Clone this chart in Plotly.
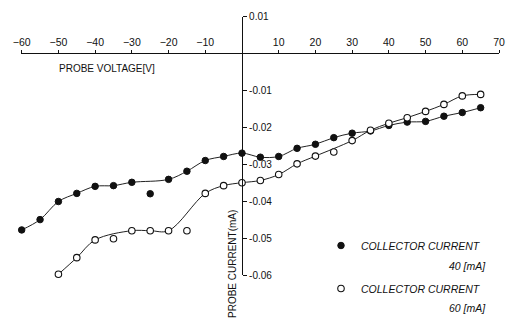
import plotly.graph_objects as go

# ---- data ----
voltage_40 = [-60, -55, -50, -45, -40, -35, -30, -25, -20, -15, -10, -5, 0,
              5, 10, 15, 20, 25, 30, 35, 40, 45, 50, 55, 60, 65]
current_40 = [-0.0478, -0.0450, -0.0401, -0.0379, -0.0360, -0.0358, -0.0349, -0.0380,
              -0.0341, -0.0319, -0.0290, -0.0279, -0.0270, -0.0281, -0.0279, -0.0257,
              -0.0246, -0.0228, -0.0216, -0.0210, -0.0195, -0.0186, -0.0184, -0.0170,
              -0.0160, -0.0147]
outliers_40 = [-25]

voltage_60 = [-50, -45, -40, -35, -30, -25, -20, -15, -10, -5, 0,
              5, 10, 15, 20, 25, 30, 35, 40, 45, 50, 55, 60, 65]
current_60 = [-0.0598, -0.0553, -0.0505, -0.0502, -0.0480, -0.0480, -0.0480, -0.0480,
              -0.0379, -0.0358, -0.0350, -0.0344, -0.0328, -0.0299, -0.0278, -0.0267,
              -0.0236, -0.0208, -0.0189, -0.0174, -0.0157, -0.0138, -0.0115, -0.0111]
outliers_60 = [-35, -15, 25]

x_tick_vals = [-60, -50, -40, -30, -20, -10, 10, 20, 30, 40, 50, 60, 70]
y_tick_vals = [0.01, -0.01, -0.02, -0.03, -0.04, -0.05, -0.06]
y_tick_text = ["0.01", "-0.01", "-0.02", "-0.03", "-0.04", "-0.05", "-0.06"]

W, H = 507, 326
FONT = "Liberation Sans"
INK = "#111111"


def fit(xs, ys, skip):
    fx, fy = [], []
    for a, b in zip(xs, ys):
        if a not in skip:
            fx.append(a)
            fy.append(b)
    return fx, fy


fig = go.Figure()

for xs, ys, skip in [(voltage_40, current_40, outliers_40), (voltage_60, current_60, outliers_60)]:
    fx, fy = fit(xs, ys, skip)
    fig.add_trace(go.Scatter(x=fx, y=fy, mode="lines", line=dict(color="#222", width=1, shape="spline", smoothing=1.0),
                             showlegend=False, hoverinfo="skip", cliponaxis=False))

fig.add_trace(go.Scatter(x=voltage_40, y=current_40, mode="markers", name="COLLECTOR CURRENT",
                         marker=dict(symbol="circle", size=6.5, color=INK, line=dict(color=INK, width=1)),
                         legendgroup="a", cliponaxis=False))
fig.add_trace(go.Scatter(x=voltage_60, y=current_60, mode="markers", name="COLLECTOR CURRENT",
                         marker=dict(symbol="circle", size=6.5, color="white", line=dict(color=INK, width=1.1)),
                         legendgroup="b", cliponaxis=False))

# axis geometry (pixels) measured on the reference
px_m60, px_p70 = 21.7, 499.0
px_per_v = (px_p70 - px_m60) / 130.0
x_lo, x_hi = -60.1, 70.1
x0_px = px_m60 + (x_lo + 60) * px_per_v
x1_px = px_p70 + (x_hi - 70) * px_per_v
y_top_px, y_bot_px = 16.5, 275.0
yaxis_px = px_m60 + 60 * px_per_v
xaxis_py = 53.4

fig.update_layout(
    width=W, height=H,
    margin=dict(l=0, r=0, t=0, b=0),
    paper_bgcolor="white", plot_bgcolor="white",
    font=dict(family=FONT, size=10, color=INK),
    xaxis=dict(domain=[x0_px / W, x1_px / W], range=[x_lo, x_hi], anchor="free",
               position=1 - xaxis_py / H, side="top", automargin=False, ticklabeloverflow="allow",
               showgrid=False, zeroline=False, showline=True, linecolor=INK, linewidth=1.2,
               ticks="outside", ticklen=3, tickcolor=INK, tickwidth=1.2,
               tickvals=x_tick_vals, tickfont=dict(size=10.5, family=FONT, color=INK)),
    yaxis=dict(domain=[1 - y_bot_px / H, 1 - y_top_px / H], range=[-0.06, 0.01], anchor="free",
               position=yaxis_px / W, side="right", automargin=False, ticklabeloverflow="allow",
               showgrid=False, zeroline=False, showline=True, linecolor=INK, linewidth=1.2,
               ticks="outside", ticklen=4, tickcolor=INK, tickwidth=1.2,
               tickvals=y_tick_vals, ticktext=y_tick_text, tickfont=dict(size=10, family=FONT, color=INK)),
    showlegend=True,
    legend=dict(x=321 / W, y=1 - 231 / H, xanchor="left", yanchor="top", bgcolor="rgba(0,0,0,0)",
                font=dict(family=FONT, size=10.5, color=INK, style="italic"),
                tracegroupgap=24, itemwidth=30),
    annotations=[
        dict(text="PROBE VOLTAGE[V]", x=57 / W, y=1 - 68 / H, xref="paper", yref="paper",
             xanchor="left", yanchor="middle", showarrow=False, font=dict(size=10, family=FONT, color=INK)),
        dict(text="PROBE CURRENT(mA)", x=232 / W, y=1 - 264 / H, xref="paper", yref="paper",
             xanchor="center", yanchor="middle", textangle=-90, showarrow=False,
             font=dict(size=10, family=FONT, color=INK)),
        dict(text="40 [mA]", x=488 / W, y=1 - 266 / H, xref="paper", yref="paper",
             xanchor="right", yanchor="middle", showarrow=False,
             font=dict(size=10.5, family=FONT, color=INK, style="italic")),
        dict(text="60 [mA]", x=488 / W, y=1 - 308 / H, xref="paper", yref="paper",
             xanchor="right", yanchor="middle", showarrow=False,
             font=dict(size=10.5, family=FONT, color=INK, style="italic")),
    ],
)

fig.write_html("out.html", config={"displayModeBar": False},
               post_script="document.body.style.margin='0';document.body.style.overflow='hidden';")
